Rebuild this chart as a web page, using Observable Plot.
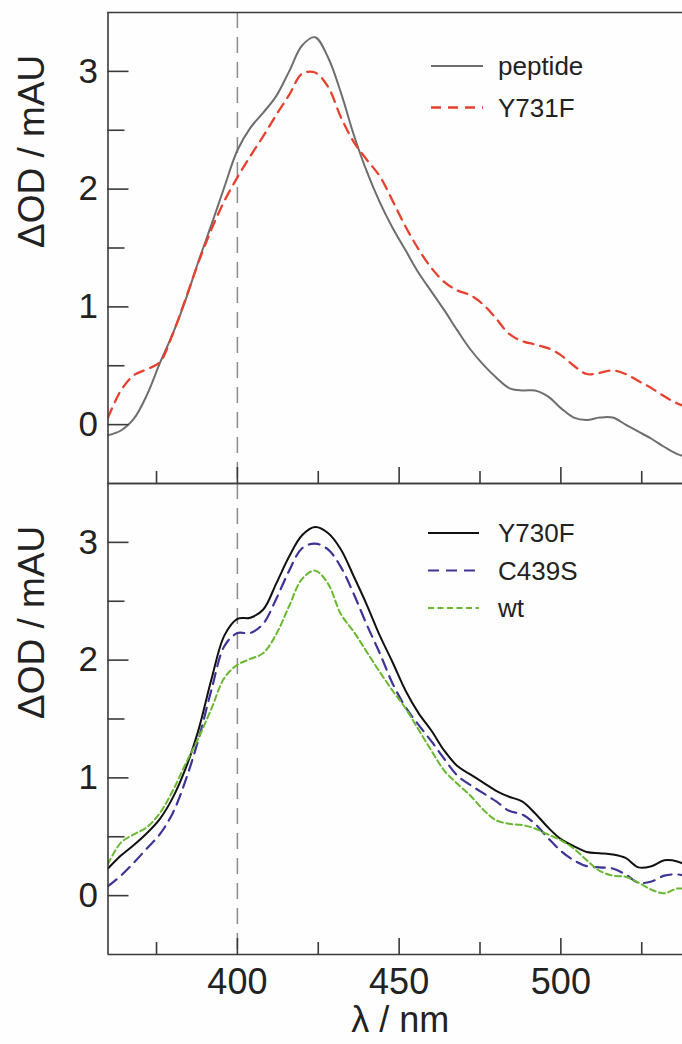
<!DOCTYPE html>
<html>
<head>
<meta charset="utf-8">
<script src="https://cdn.jsdelivr.net/npm/d3@7"></script>
<script src="https://cdn.jsdelivr.net/npm/@observablehq/plot@0.6"></script>
<style>
  html, body { margin: 0; padding: 0; background: #fefefe; }
  #wrap { position: relative; width: 682px; height: 1044px; overflow: hidden; font-family: "Liberation Sans", Arial, sans-serif; }
  #wrap > svg, #wrap > div { position: absolute; left: 0; }
</style>
</head>
<body>
<div id="wrap"></div>
<script>
// Wavelength grid (nm)
const lambda = [360,364,368,372,376,380,384,388,392,396,400,404,408,412,416,420,424,428,432,436,440,444,448,452,456,460,464,468,472,476,480,484,488,492,496,500,504,508,512,516,520,524,528,532,536,540];

// Top panel series (ΔOD / mAU)
const peptide = [-0.09,-0.05,0.05,0.25,0.52,0.77,1.06,1.39,1.70,2.02,2.33,2.52,2.65,2.79,3.00,3.22,3.29,3.12,2.82,2.46,2.15,1.89,1.67,1.48,1.29,1.13,0.97,0.80,0.64,0.51,0.40,0.31,0.29,0.29,0.24,0.14,0.06,0.04,0.06,0.06,0.00,-0.06,-0.12,-0.19,-0.25,-0.28];
const y731f = [0.06,0.29,0.42,0.47,0.53,0.77,1.07,1.38,1.66,1.90,2.10,2.28,2.45,2.63,2.80,2.98,2.99,2.87,2.61,2.40,2.25,2.11,1.90,1.68,1.49,1.33,1.21,1.14,1.10,1.02,0.90,0.77,0.71,0.68,0.65,0.59,0.50,0.43,0.44,0.46,0.43,0.37,0.31,0.24,0.18,0.14];

// Bottom panel series
const y730f = [0.23,0.34,0.43,0.53,0.65,0.83,1.08,1.41,1.84,2.21,2.35,2.36,2.43,2.65,2.88,3.06,3.13,3.08,2.94,2.71,2.47,2.21,1.98,1.74,1.55,1.40,1.23,1.10,1.03,0.96,0.89,0.84,0.80,0.70,0.58,0.48,0.42,0.37,0.36,0.35,0.32,0.24,0.25,0.30,0.29,0.24];
const c439s = [0.08,0.17,0.28,0.40,0.52,0.70,0.98,1.33,1.75,2.12,2.23,2.23,2.31,2.52,2.76,2.95,2.99,2.94,2.79,2.56,2.30,2.06,1.80,1.60,1.45,1.31,1.16,1.02,0.94,0.87,0.80,0.72,0.69,0.61,0.49,0.38,0.30,0.25,0.24,0.23,0.18,0.11,0.12,0.17,0.18,0.16];
const wt = [0.27,0.45,0.52,0.58,0.70,0.89,1.12,1.34,1.59,1.85,1.96,2.01,2.06,2.22,2.46,2.69,2.76,2.65,2.39,2.24,2.07,1.90,1.74,1.59,1.41,1.23,1.06,0.95,0.85,0.73,0.64,0.61,0.60,0.57,0.52,0.47,0.40,0.30,0.21,0.17,0.16,0.11,0.05,0.02,0.06,0.05];

// Axis ticks
const yTickLabels = [0, 1, 2, 3];
const yMinorTicks = [0.5, 1.5, 2.5];
const xTickLabels = [400, 450, 500];
const xMinorTicks = [375, 425, 475, 525];
const markerLine = [400];

const topSeries = [
  {name: "peptide", values: peptide, stroke: "#6e6e6e", dash: null, width: 2},
  {name: "Y731F", values: y731f, stroke: "#e8402f", dash: "10,7", width: 2.3}
];
const bottomSeries = [
  {name: "Y730F", values: y730f, stroke: "#111111", dash: null, width: 2},
  {name: "C439S", values: c439s, stroke: "#3c3596", dash: "11,7", width: 2.2},
  {name: "wt", values: wt, stroke: "#69b82f", dash: "6,3.5", width: 2}
];

const W = 682, ML = 107.5, MR = 0;
const plotW = W - ML - MR;
const plotH = 471;
const xDomain = [360, 537.6];
const yDomain = [-0.5, 3.5];
const axisColor = "#3a3a3a";
const textColor = "#222";
const font = "'Liberation Sans', Arial, sans-serif";

function rows(values) { return lambda.map((x, i) => ({x, y: values[i]})); }

function panel(series, {marginTop, marginBottom, bottomAxis}) {
  const marks = [
    // vertical reference line
    Plot.ruleX(markerLine, {x: d => d, stroke: "#8a8a8a", strokeWidth: 1.5, strokeDasharray: "16,9"}),
    // curves
    ...series.map(s => Plot.line(rows(s.values), {x: "x", y: "y", stroke: s.stroke, strokeWidth: s.width, strokeDasharray: s.dash, curve: "catmull-rom", clip: true})),
    // frame (left, top, bottom)
    Plot.ruleX([xDomain[0]], {x: d => d, stroke: axisColor, strokeWidth: 1.6}),
    Plot.ruleY([yDomain[1]], {y: d => d, stroke: axisColor, strokeWidth: 1.6}),
    Plot.ruleY([yDomain[0]], {y: d => d, stroke: axisColor, strokeWidth: 1.6}),
    // y ticks (inward)
    Plot.ruleY(yTickLabels, {y: d => d, stroke: axisColor, strokeWidth: 1.6, insetRight: plotW - 21}),
    Plot.ruleY(yMinorTicks, {y: d => d, stroke: axisColor, strokeWidth: 1.6, insetRight: plotW - 17}),
    // x ticks (inward from bottom)
    Plot.ruleX(xTickLabels, {x: d => d, stroke: axisColor, strokeWidth: 1.6, insetTop: plotH - 16}),
    Plot.ruleX(xMinorTicks, {x: d => d, stroke: axisColor, strokeWidth: 1.6, insetTop: plotH - 12}),
    // y tick labels
    Plot.text(yTickLabels, {y: d => d, frameAnchor: "left", textAnchor: "end", dx: -10, text: d => String(d), fontSize: 35, fill: textColor}),
    // y axis title
    Plot.text(["ΔOD / mAU"], {frameAnchor: "left", rotate: -90, dx: -76, text: d => d, fontSize: 37, fill: textColor})
  ];
  if (bottomAxis) {
    marks.push(
      Plot.text(xTickLabels, {x: d => d, frameAnchor: "bottom", lineAnchor: "top", dy: 14, text: d => String(d), fontSize: 36, fill: textColor}),
      Plot.text(["λ / nm"], {frameAnchor: "bottom", lineAnchor: "top", dy: 52, dx: 5, text: d => d, fontSize: 36, fill: textColor})
    );
  }
  return Plot.plot({
    width: W,
    height: marginTop + plotH + marginBottom,
    marginTop, marginBottom, marginLeft: ML, marginRight: MR,
    x: {domain: xDomain, axis: null},
    y: {domain: yDomain, axis: null},
    style: {background: "transparent", fontFamily: font, color: textColor, overflow: "visible"},
    marks
  });
}

const wrap = document.getElementById("wrap");
const top1 = panel(topSeries, {marginTop: 12, marginBottom: 1, bottomAxis: false});
top1.style.top = "0px";
wrap.appendChild(top1);
const bot = panel(bottomSeries, {marginTop: 12, marginBottom: 90, bottomAxis: true});
bot.style.top = "471px";
wrap.appendChild(bot);

// Legends (overlay)
const legendSvg = d3.create("svg").attr("width", W).attr("height", 1044)
  .style("position", "absolute").style("top", "0px").style("left", "0px").style("pointer-events", "none");
function legend(series, x1, x2, tx, ys) {
  series.forEach((s, i) => {
    const y = ys[i];
    legendSvg.append("line").attr("x1", x1).attr("x2", x2).attr("y1", y).attr("y2", y)
      .attr("stroke", s.stroke).attr("stroke-width", s.width).attr("stroke-dasharray", s.dash);
    legendSvg.append("text").attr("x", tx).attr("y", y).attr("dy", "0.35em")
      .attr("font-family", font).attr("font-size", 26).attr("fill", textColor).text(s.name);
  });
}
legend(topSeries, 431, 483, 498, [66, 107.5]);
legend(bottomSeries, 428, 479, 498, [533, 570.5, 608]);
wrap.appendChild(legendSvg.node());
</script>
</body>
</html>
